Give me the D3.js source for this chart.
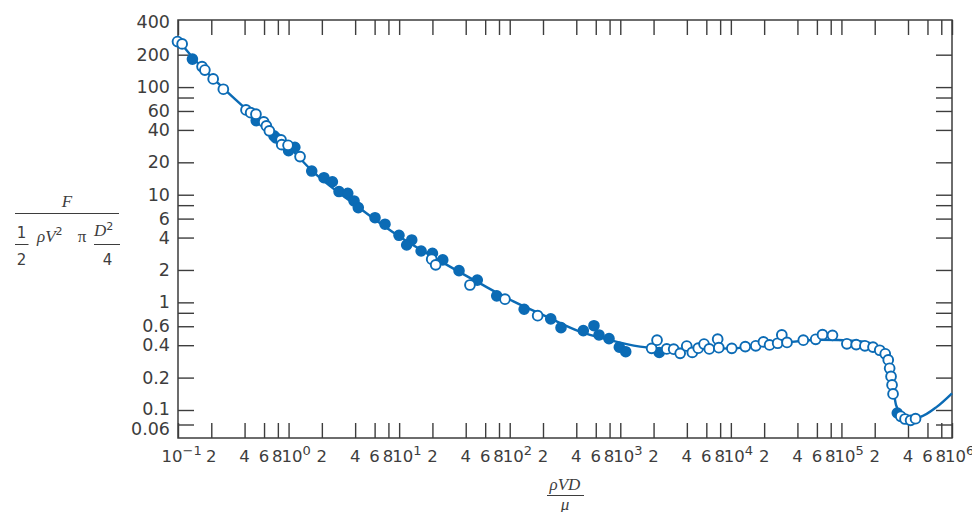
<!DOCTYPE html>
<html><head><meta charset="utf-8">
<script src="https://cdn.jsdelivr.net/npm/d3@7"></script>
<style>html,body{margin:0;padding:0;background:#fff;} svg{display:block;}</style>
</head><body>
<svg id="chart" width="972" height="512"></svg>
<script>
// ---------- data ----------
const curveRe = [0.1, 0.134, 0.255, 0.507, 1.03, 1.60, 4.25, 10.2, 23.4, 53.8, 108, 216, 432, 754, 1510, 2820, 10200, 27800, 64000, 136000, 193000, 238000, 264000, 284000, 296000, 312000, 346000, 400000, 514000, 728000, 1000000];
const curveCd = [275, 191, 98.3, 51.7, 27.2, 17.0, 7.70, 4.05, 2.43, 1.50, 1.02, 0.736, 0.535, 0.454, 0.388, 0.369, 0.374, 0.417, 0.450, 0.438, 0.410, 0.353, 0.292, 0.211, 0.153, 0.111, 0.0869, 0.0741, 0.0782, 0.107, 0.143];

const openRe = [0.099, 0.109, 0.165, 0.175, 0.208, 0.257, 0.412, 0.454, 0.507, 0.596, 0.630, 0.670, 0.855, 0.867, 0.989, 1.27, 19.7, 21.4, 43.7, 90.6, 179, 1920, 2150, 2630, 3040, 3480, 3990, 4480, 5070, 5720, 6380, 7600, 7780, 10200, 13500, 16800, 19700, 22400, 26500, 28900, 32200, 45200, 58500, 67400, 83000, 112000, 136000, 163000, 193000, 222000, 249000, 265000, 273000, 281000, 287000, 293000, 344000, 376000, 422000, 468000];
const openCd = [265, 252, 155, 144, 119, 95.5, 61.4, 57.9, 56.0, 47.5, 43.6, 39.2, 32.3, 29.2, 28.8, 22.6, 2.52, 2.23, 1.45, 1.07, 0.752, 0.374, 0.445, 0.369, 0.367, 0.336, 0.393, 0.343, 0.375, 0.410, 0.369, 0.455, 0.379, 0.374, 0.388, 0.395, 0.429, 0.402, 0.417, 0.498, 0.424, 0.445, 0.454, 0.501, 0.494, 0.412, 0.405, 0.395, 0.384, 0.359, 0.333, 0.292, 0.244, 0.205, 0.171, 0.141, 0.0801, 0.0728, 0.0695, 0.0736];

const filledRe = [0.135, 0.510, 0.738, 0.769, 1.00, 1.14, 1.62, 2.09, 2.49, 2.86, 3.43, 3.91, 4.27, 6.05, 7.45, 9.97, 13.0, 11.7, 15.8, 20.0, 24.8, 34.8, 50.9, 76.3, 135, 235, 291, 463, 578, 642, 791, 980, 1120, 2250, 320000];
const filledCd = [182, 48.8, 35.2, 33.7, 25.7, 27.6, 16.6, 14.4, 13.2, 10.7, 10.3, 8.75, 7.59, 6.12, 5.32, 4.20, 3.80, 3.41, 3.00, 2.86, 2.48, 1.97, 1.61, 1.15, 0.863, 0.702, 0.582, 0.546, 0.607, 0.498, 0.460, 0.383, 0.348, 0.342, 0.0900];

const xMajorValues = [0.1, 1, 10, 100, 1000, 10000, 100000, 1000000];
const xMajorExponents = ["\u22121", "0", "1", "2", "3", "4", "5", "6"];
const xMinorMultipliers = [2, 4, 6, 8];
const yTickValues = [400, 200, 100, 80, 60, 40, 20, 10, 8, 6, 4, 2, 1, 0.8, 0.6, 0.4, 0.2, 0.1, 0.06];
const yTickLabels = ["400", "200", "100", "", "60", "40", "20", "10", "", "6", "4", "2", "1", "", "0.6", "0.4", "0.2", "0.1", "0.06"];

// ---------- setup ----------
const svg = d3.select("#chart");
const L = 178, R = 952, T = 20, B = 438;
const blue = "#0b6bb5", ink = "#3d3d3d";
const sans = "'DejaVu Sans', sans-serif";
const serif = "'Liberation Serif', 'DejaVu Serif', serif";

const x = d3.scaleLog().domain([0.1, 1e6]).range([L, R]);
// the printed axis is log, with the lowest tick drawn slightly off-scale
const y = d3.scaleLog().domain([0.05, 0.06, 0.1, 420]).range([B, 424.5, 410, T]);

const xTicks = [];
xMajorValues.forEach((v, i) => {
  xTicks.push(v);
  if (i < xMajorValues.length - 1) xMinorMultipliers.forEach(m => xTicks.push(v * m));
});

function styleAxis(g) {
  g.select(".domain").remove();
  g.selectAll(".tick line").attr("stroke", ink).attr("stroke-width", 1.4);
  g.selectAll(".tick text").attr("fill", ink).attr("font-family", sans).attr("font-size", 17.5);
}

svg.append("g").attr("transform", `translate(0,${B})`)
  .call(d3.axisBottom(x).tickValues(xTicks).tickSizeInner(-15).tickSizeOuter(0).tickFormat(""))
  .call(styleAxis);
svg.append("g").attr("transform", `translate(0,${T})`)
  .call(d3.axisTop(x).tickValues(xTicks).tickSizeInner(-15).tickSizeOuter(0).tickFormat(""))
  .call(styleAxis);
const gL = svg.append("g").attr("transform", `translate(${L},0)`)
  .call(d3.axisLeft(y).tickValues(yTickValues).tickSizeInner(-16).tickSizeOuter(0).tickPadding(8)
    .tickFormat((d, i) => yTickLabels[i]))
  .call(styleAxis);
gL.selectAll(".tick").filter(d => d === 400).select("line").remove();
gL.selectAll(".tick").filter(d => d === 0.06).select("text").attr("y", 4);
gL.selectAll(".tick").filter(d => d === 0.1).select("text").attr("y", -1.5);
svg.append("g").attr("transform", `translate(${R},0)`)
  .call(d3.axisRight(y).tickValues(yTickValues.filter(v => v !== 400)).tickSizeInner(-16).tickSizeOuter(0).tickFormat(""))
  .call(styleAxis);

// frame
svg.append("rect").attr("x", L).attr("y", T).attr("width", R - L).attr("height", B - T)
  .attr("fill", "none").attr("stroke", ink).attr("stroke-width", 1.5);

// x tick labels
const lab = svg.append("g").attr("font-family", sans).attr("font-size", 16.5).attr("fill", ink);
xMajorValues.forEach((v, i) => {
  const cx = x(v) + (i === 0 ? -6 : 3.5);
  const t = lab.append("text").attr("x", cx).attr("y", 462).attr("text-anchor", "middle").text("10");
  const w = t.node().getComputedTextLength();
  lab.append("text").attr("x", cx + w / 2).attr("y", 455).attr("font-size", 13).text(xMajorExponents[i]);
});
xMajorValues.slice(0, -1).forEach(v => xMinorMultipliers.forEach(m => {
  lab.append("text").attr("x", x(v * m) - (m === 8 ? 0.5 : 0)).attr("y", 462).attr("text-anchor", "middle").text(m);
}));

// curve
const line = d3.line().x(d => x(d[0])).y(d => y(d[1])).curve(d3.curveMonotoneX);
svg.append("path").datum(curveRe.map((r, i) => [r, curveCd[i]]))
  .attr("d", line).attr("fill", "none").attr("stroke", blue).attr("stroke-width", 2.4);

// markers
svg.append("g").selectAll("circle").data(filledRe.map((r, i) => [r, filledCd[i]])).join("circle")
  .attr("cx", d => x(d[0])).attr("cy", d => y(d[1])).attr("r", 5)
  .attr("fill", blue).attr("stroke", blue).attr("stroke-width", 1.6);
svg.append("g").selectAll("circle").data(openRe.map((r, i) => [r, openCd[i]])).join("circle")
  .attr("cx", d => x(d[0])).attr("cy", d => y(d[1])).attr("r", 4.9)
  .attr("fill", "#fff").attr("stroke", blue).attr("stroke-width", 1.9);

// y-axis title: F / (1/2 ρV² π D²/4)
const yt = svg.append("g").attr("fill", ink);
yt.append("text").attr("x", 67).attr("y", 207).attr("text-anchor", "middle")
  .attr("font-family", serif).attr("font-style", "italic").attr("font-size", 17).text("F");
yt.append("line").attr("x1", 15).attr("x2", 119).attr("y1", 213.5).attr("y2", 213.5).attr("stroke", ink).attr("stroke-width", 1);
yt.append("text").attr("x", 21.5).attr("y", 238).attr("text-anchor", "middle")
  .attr("font-family", sans).attr("font-size", 15).text("1");
yt.append("line").attr("x1", 15).attr("x2", 28.5).attr("y1", 244.5).attr("y2", 244.5).attr("stroke", ink).attr("stroke-width", 1);
yt.append("text").attr("x", 21.5).attr("y", 265).attr("text-anchor", "middle")
  .attr("font-family", sans).attr("font-size", 15).text("2");
const rv = yt.append("text").attr("x", 37).attr("y", 242).attr("font-family", serif).attr("font-size", 17);
rv.append("tspan").attr("font-style", "italic").text("\u03C1V");
rv.append("tspan").attr("font-family", sans).attr("font-size", 11).attr("dy", -7).text("2");
yt.append("text").attr("x", 82).attr("y", 242).attr("text-anchor", "middle")
  .attr("font-family", serif).attr("font-size", 17).text("\u03C0");
const dd = yt.append("text").attr("x", 94).attr("y", 235.5).attr("font-family", serif).attr("font-size", 17);
dd.append("tspan").attr("font-style", "italic").text("D");
dd.append("tspan").attr("font-family", sans).attr("font-size", 11).attr("dy", -6).text("2");
yt.append("line").attr("x1", 94).attr("x2", 120).attr("y1", 244.5).attr("y2", 244.5).attr("stroke", ink).attr("stroke-width", 1);
yt.append("text").attr("x", 107.5).attr("y", 265).attr("text-anchor", "middle")
  .attr("font-family", sans).attr("font-size", 15).text("4");

// x-axis title: ρVD / μ
const xt = svg.append("g").attr("fill", ink).attr("font-family", serif).attr("font-style", "italic").attr("font-size", 17);
xt.append("text").attr("x", 565).attr("y", 490).attr("text-anchor", "middle").text("\u03C1VD");
xt.append("line").attr("x1", 547).attr("x2", 584).attr("y1", 495.5).attr("y2", 495.5).attr("stroke", ink).attr("stroke-width", 1);
xt.append("text").attr("x", 565).attr("y", 509.5).attr("text-anchor", "middle").text("\u03BC");
</script>
</body></html>
